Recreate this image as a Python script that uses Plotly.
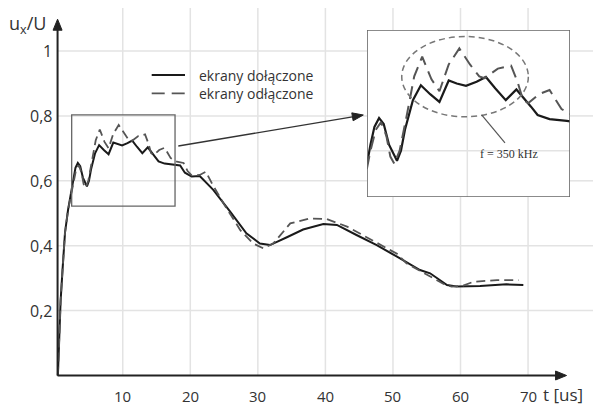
import plotly.graph_objects as go

# ---- data ----
t_on = [0.4, 0.6, 0.8, 1.1, 1.45, 1.9, 2.3, 2.7, 3.0, 3.35, 3.7, 4.1, 4.7, 5.0, 5.3, 5.9, 6.5,
        7.2, 7.9, 8.6, 9.2, 9.9, 10.7, 11.4, 12.1, 12.9, 13.7, 14.3, 14.8, 15.3, 16.2, 17.5,
        18.5, 19.2, 20.2, 21.4, 23.4, 25.9, 28.3, 30.3, 31.8, 34.3, 36.7, 39.7, 41.7, 44.6,
        47.6, 50.6, 54.0, 55.5, 58.0, 59.4, 62.9, 66.8, 69.3]
u_on = [0.0, 0.13, 0.23, 0.33, 0.44, 0.51, 0.56, 0.61, 0.64, 0.655, 0.645, 0.61, 0.583, 0.60,
        0.635, 0.685, 0.71, 0.695, 0.682, 0.718, 0.713, 0.709, 0.716, 0.724, 0.705, 0.685,
        0.703, 0.688, 0.674, 0.66, 0.653, 0.65, 0.647, 0.625, 0.613, 0.615, 0.572, 0.505,
        0.438, 0.407, 0.402, 0.426, 0.45, 0.467, 0.464, 0.433, 0.402, 0.366, 0.325, 0.315,
        0.279, 0.274, 0.276, 0.281, 0.279]

t_off = [0.4, 0.6, 0.8, 1.1, 1.45, 1.9, 2.3, 2.7, 3.1, 3.5, 3.9, 4.2, 4.5, 4.9, 5.4, 6.0, 6.6,
         7.3, 7.9, 8.6, 9.4, 10.2, 10.9, 11.3, 12.3, 13.3, 13.8, 14.2, 14.6, 15.4, 16.2, 17.1,
         18.0, 19.0, 19.6, 20.2, 21.4, 22.3, 23.2, 24.9, 27.4, 29.3, 30.8, 32.3, 34.8, 37.7,
         40.2, 43.2, 46.4, 50.6, 52.0, 55.0, 57.5, 58.7, 60.4, 61.9, 65.4, 68.6]
u_off = [0.0, 0.13, 0.23, 0.33, 0.44, 0.51, 0.555, 0.60, 0.635, 0.648, 0.625, 0.59, 0.578,
         0.60, 0.655, 0.725, 0.758, 0.72, 0.70, 0.745, 0.772, 0.745, 0.725, 0.722, 0.738,
         0.743, 0.715, 0.685, 0.68, 0.695, 0.702, 0.67, 0.659, 0.655, 0.63, 0.617, 0.618,
         0.628, 0.592, 0.531, 0.448, 0.407, 0.392, 0.407, 0.469, 0.484, 0.482, 0.459, 0.423,
         0.375, 0.346, 0.31, 0.282, 0.274, 0.277, 0.289, 0.294, 0.294]

x_ticks = [10, 20, 30, 40, 50, 60, 70]
y_ticks = [0.2, 0.4, 0.6, 0.8, 1.0]
y_tick_labels = ["0,2", "0,4", "0,6", "0,8", "1"]
series_names = ["ekrany dołączone", "ekrany odłączone"]

# zoom window shown in the inset
zoom_x = [2.44, 17.74]
zoom_y = [0.522, 0.803]
inset_grid_x = [10]
inset_grid_y = [0.6]

FONT = "Open Sans"
TXT = "#333333"
GRID = "#e3e3e3"

# main axis ranges chosen so the axes fill the whole 595x405 canvas
XR = [-8.172, 79.91]
YR = [-0.0909, 1.1572]
W, H = 595, 405


def dx(px):  # pixel length -> x units
    return px * (XR[1] - XR[0]) / W


def dy(px):  # pixel length -> y units
    return px * (YR[1] - YR[0]) / H


def X(px):
    return XR[0] + dx(px)


def Y(py):
    return YR[1] - dy(py)


fig = go.Figure()

solid = dict(color="#1a1a1a", width=2)
dashed = dict(color="#555555", width=1.8, dash="9px,5px")

fig.add_trace(go.Scatter(x=t_on, y=u_on, mode="lines", line=solid, name=series_names[0],
                         showlegend=False, xaxis="x", yaxis="y"))
fig.add_trace(go.Scatter(x=t_off, y=u_off, mode="lines", line=dashed, name=series_names[1],
                         showlegend=False, xaxis="x", yaxis="y"))
# inset copies
fig.add_trace(go.Scatter(x=t_on, y=u_on, mode="lines", line=dict(color="#1a1a1a", width=2.2),
                         showlegend=False, xaxis="x2", yaxis="y2"))
fig.add_trace(go.Scatter(x=t_off, y=u_off, mode="lines",
                         line=dict(color="#555555", width=2, dash="13px,7px"),
                         showlegend=False, xaxis="x2", yaxis="y2"))

shapes = []
y_top = Y(8)
x_right = X(593)
inset_l, inset_r = X(367), X(570)
inset_b, inset_t = Y(197), Y(30)
x_axis_pos = 0.35
for xv in x_ticks:
    if inset_l < xv < inset_r:
        segs = [(0, inset_b), (inset_t, y_top)]
    else:
        segs = [(0, y_top)]
    for a, b in segs:
        shapes.append(dict(type="line", xref="x", yref="y", x0=xv, x1=xv, y0=a, y1=b,
                           line=dict(color=GRID, width=1.5), layer="below"))
for yv in y_ticks:
    if inset_b < yv < inset_t:
        segs = [(x_axis_pos, inset_l), (inset_r, x_right)]
    else:
        segs = [(x_axis_pos, x_right)]
    for a, b in segs:
        shapes.append(dict(type="line", xref="x", yref="y", x0=a, x1=b, y0=yv, y1=yv,
                           line=dict(color=GRID, width=1.5), layer="below"))

# inset grid lines
for xv in inset_grid_x:
    shapes.append(dict(type="line", xref="x2", yref="y2", x0=xv, x1=xv, y0=zoom_y[0],
                       y1=zoom_y[1], line=dict(color=GRID, width=1.5), layer="below"))
for yv in inset_grid_y:
    shapes.append(dict(type="line", xref="x2", yref="y2", x0=zoom_x[0], x1=zoom_x[1], y0=yv,
                       y1=yv, line=dict(color=GRID, width=1.5), layer="below"))
# inset frame
shapes.append(dict(type="rect", xref="x2", yref="y2", x0=zoom_x[0], x1=zoom_x[1],
                   y0=zoom_y[0], y1=zoom_y[1], line=dict(color="#666666", width=1.6)))

# axes lines
y_tip = 1.098
x_tip = 75.7
shapes.append(dict(type="line", xref="x", yref="y", x0=x_axis_pos, x1=x_axis_pos, y0=0,
                   y1=y_tip - dy(8), line=dict(color="#222222", width=2)))
shapes.append(dict(type="line", xref="x", yref="y", x0=x_axis_pos, x1=x_tip - dx(8), y0=0,
                   y1=0, line=dict(color="#222222", width=2)))
# arrow heads (triangles)
shapes.append(dict(type="path", xref="x", yref="y", fillcolor="#222222",
                   line=dict(color="#222222", width=1),
                   path=f"M {x_axis_pos},{y_tip} L {x_axis_pos - dx(4.5)},{y_tip - dy(11)} "
                        f"L {x_axis_pos + dx(4.5)},{y_tip - dy(11)} Z"))
shapes.append(dict(type="path", xref="x", yref="y", fillcolor="#222222",
                   line=dict(color="#222222", width=1),
                   path=f"M {x_tip},0 L {x_tip - dx(11)},{dy(4.5)} "
                        f"L {x_tip - dx(11)},{-dy(4.5)} Z"))

# connector arrow from zoom box to inset
ax0, ay0 = 178.3, 146.0
ax1, ay1 = 363.3, 115.0
L = ((ax1 - ax0) ** 2 + (ay1 - ay0) ** 2) ** 0.5
ux, uy = (ax1 - ax0) / L, (ay1 - ay0) / L
bx, by = ax1 - 11 * ux, ay1 - 11 * uy
px_, py_ = -uy, ux
shapes.append(dict(type="line", xref="x", yref="y", x0=X(ax0), y0=Y(ay0), x1=X(bx), y1=Y(by),
                   line=dict(color="#333333", width=1.3)))
shapes.append(dict(type="path", xref="x", yref="y", fillcolor="#222222",
                   line=dict(color="#222222", width=1),
                   path=f"M {X(ax1)},{Y(ay1)} L {X(bx + 4 * px_)},{Y(by + 4 * py_)} "
                        f"L {X(bx - 4 * px_)},{Y(by - 4 * py_)} Z"))

# zoom box on main plot
shapes.append(dict(type="rect", xref="x", yref="y", x0=zoom_x[0], x1=zoom_x[1],
                   y0=zoom_y[0], y1=zoom_y[1], line=dict(color="#666666", width=1.3)))
# legend samples
leg_y = [Y(75), Y(93.3)]
shapes.append(dict(type="line", xref="x", yref="y", x0=X(151.7), x1=X(185), y0=leg_y[0],
                   y1=leg_y[0], line=dict(color="#1a1a1a", width=2)))
shapes.append(dict(type="line", xref="x", yref="y", x0=X(151.7), x1=X(185), y0=leg_y[1],
                   y1=leg_y[1], line=dict(color="#555555", width=1.8, dash="13px,7px")))
# ellipse in inset
shapes.append(dict(type="circle", xref="x2", yref="y2", x0=5.06, x1=14.6, y0=0.657, y1=0.792,
                   line=dict(color="#777777", width=1.5, dash="6px,4px")))
# pointer line in inset
shapes.append(dict(type="line", xref="x2", yref="y2", x0=11.08, x1=12.84, y0=0.660, y1=0.613,
                   line=dict(color="#555555", width=1.2)))

ann = []
# tick labels
for xv in x_ticks:
    ann.append(dict(x=xv, y=Y(395.5), xref="x", yref="y", text=str(xv), showarrow=False,
                    borderpad=0,
                    font=dict(family=FONT, size=15, color=TXT), xanchor="center", yanchor="middle"))
for yv, lab in zip(y_ticks, y_tick_labels):
    ann.append(dict(x=X(54), y=yv, xref="x", yref="y", text=lab, showarrow=False,
                    font=dict(family=FONT, size=16, color=TXT), xanchor="right", yanchor="middle"))
# axis titles
ann.append(dict(x=X(7), y=Y(24), xref="x", yref="y", text="u<sub>x</sub>/U", showarrow=False,
                font=dict(family=FONT, size=18, color=TXT), xanchor="left", yanchor="middle"))
ann.append(dict(x=X(542), y=Y(394), xref="x", yref="y", text="t [us]", showarrow=False,
                borderpad=0,
                font=dict(family=FONT, size=17, color=TXT), xanchor="left", yanchor="middle"))
# legend texts
for yy, name in zip(leg_y, series_names):
    ann.append(dict(x=X(197), y=yy, xref="x", yref="y", text=name, showarrow=False,
                    font=dict(family=FONT, size=14, color=TXT), xanchor="left", yanchor="middle"))
# inset label
ann.append(dict(x=13.16, y=0.595, xref="x2", yref="y2", text="f = 350 kHz", showarrow=False,
                font=dict(family="Liberation Serif", size=12, color=TXT),
                xanchor="center", yanchor="middle"))

fig.update_layout(
    width=W, height=H, autosize=False,
    margin=dict(l=0, r=0, t=0, b=0, pad=0),
    paper_bgcolor="white", plot_bgcolor="white",
    showlegend=False,
    xaxis=dict(range=XR, domain=[0, 1], visible=False, fixedrange=True),
    yaxis=dict(range=YR, domain=[0, 1], visible=False, fixedrange=True),
    xaxis2=dict(range=zoom_x, domain=[367 / W, 570 / W], anchor="y2", visible=False,
                fixedrange=True),
    yaxis2=dict(range=zoom_y, domain=[1 - 197 / H, 1 - 30 / H], anchor="x2", visible=False,
                fixedrange=True),
    shapes=shapes,
    annotations=ann,
)

fig.write_html("out.html", config={"displayModeBar": False},
               post_script="document.body.style.margin='0';document.body.style.overflow='hidden';")
